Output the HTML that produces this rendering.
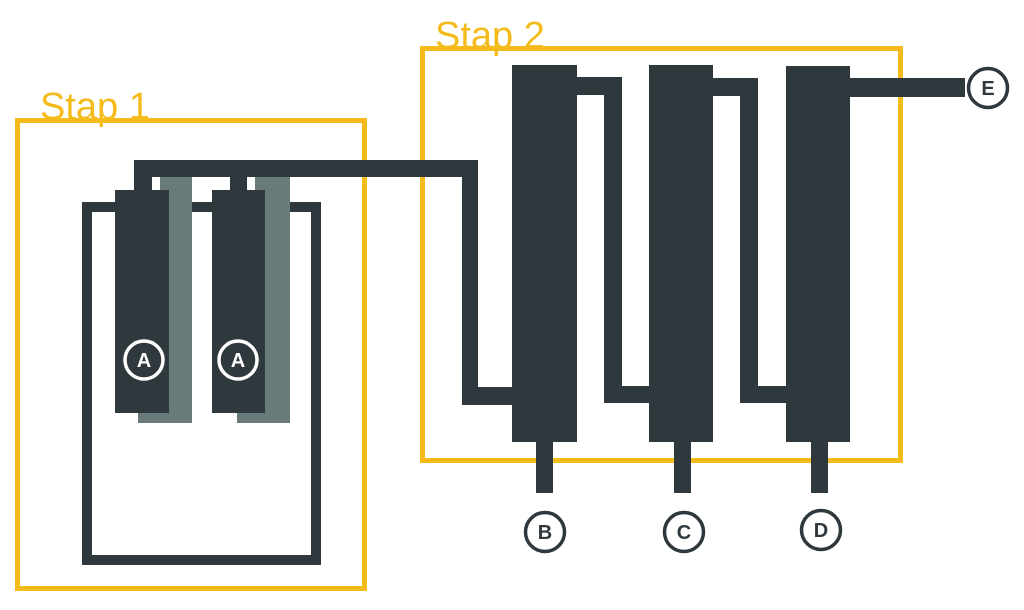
<!DOCTYPE html>
<html><head><style>body{margin:0;background:#fff}svg{display:block}</style></head>
<body>
<svg width="1024" height="610" viewBox="0 0 1024 610" xmlns="http://www.w3.org/2000/svg">
<g fill="none" stroke="#f4bb1a" stroke-width="5">
<rect x="17.5" y="120.5" width="347" height="468"/>
<rect x="422.5" y="48.5" width="478" height="412"/>
</g>
<g font-family="'Liberation Sans',sans-serif" font-size="38" fill="#f4bb1a">
<text x="40" y="119">Stap 1</text>
<text x="435" y="48">Stap 2</text>
</g>
<g fill="#687a79">
<rect x="160" y="177" width="32" height="246"/>
<rect x="138" y="200" width="54" height="223"/>
<rect x="255" y="177" width="35" height="246"/>
<rect x="237" y="200" width="53" height="223"/>
</g>
<g fill="#2f383c">
<rect x="82" y="202" width="33" height="10"/>
<rect x="82" y="202" width="10" height="363"/>
<rect x="82" y="555" width="239" height="10"/>
<rect x="311" y="202" width="10" height="363"/>
<rect x="290" y="202" width="31" height="10"/>
<rect x="192" y="202" width="20" height="10"/>
<rect x="115" y="190" width="54" height="223"/>
<rect x="212" y="190" width="53" height="223"/>
<rect x="134" y="177" width="18" height="14"/>
<rect x="230" y="177" width="17" height="14"/>
<rect x="134" y="160" width="344" height="17"/>
<rect x="462" y="160" width="16" height="245"/>
<rect x="462" y="387" width="52" height="18"/>
<rect x="512" y="65" width="65" height="377"/>
<rect x="649" y="65" width="64" height="377"/>
<rect x="786" y="66" width="64" height="376"/>
<rect x="577" y="77" width="45" height="18"/>
<rect x="604" y="77" width="18" height="326"/>
<rect x="604" y="386" width="46" height="17"/>
<rect x="713" y="78" width="45" height="18"/>
<rect x="740" y="78" width="18" height="325"/>
<rect x="740" y="386" width="47" height="17"/>
<rect x="850" y="78" width="115" height="19"/>
<rect x="536" y="440" width="17" height="53"/>
<rect x="674" y="440" width="17" height="53"/>
<rect x="811" y="440" width="17" height="53"/>
</g>
<g fill="none" stroke-width="3.5">
<circle cx="144" cy="360" r="19" stroke="#fff"/>
<circle cx="238" cy="360" r="19" stroke="#fff"/>
<circle cx="545" cy="532" r="19.5" stroke="#2f383c"/>
<circle cx="684" cy="532" r="19.5" stroke="#2f383c"/>
<circle cx="821" cy="530" r="19.5" stroke="#2f383c"/>
<circle cx="988" cy="88" r="19.5" stroke="#2f383c"/>
</g>
<g font-family="'Liberation Sans',sans-serif" font-size="20" font-weight="bold" text-anchor="middle">
<text x="144" y="367" fill="#fff">A</text>
<text x="238" y="367" fill="#fff">A</text>
<text x="545" y="539" fill="#2f383c">B</text>
<text x="684" y="539" fill="#2f383c">C</text>
<text x="821" y="537" fill="#2f383c">D</text>
<text x="988" y="95" fill="#2f383c">E</text>
</g>
</svg>
</body></html>
